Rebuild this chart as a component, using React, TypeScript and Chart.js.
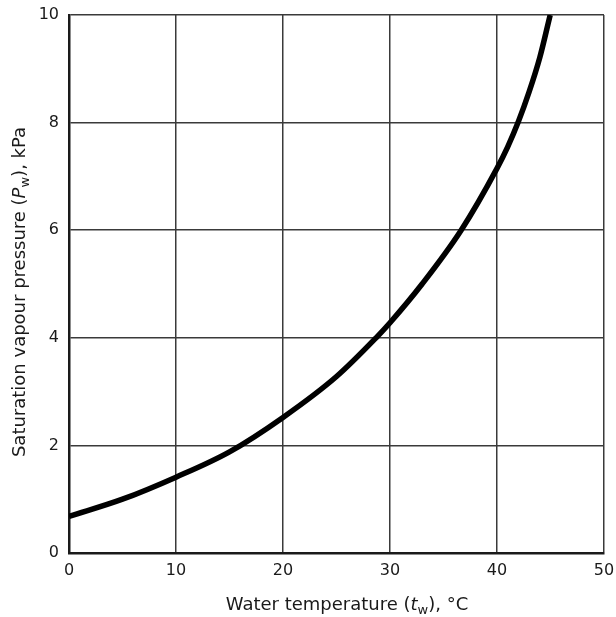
import React, { useEffect, useRef } from "react";
import { Chart, registerables } from "chart.js";

Chart.register(...registerables);

const temperatures = [0, 5, 10, 15, 20, 25, 28.7, 30, 33, 36.65, 40, 41, 42, 43, 44, 44.97];
const pressures = [0.68, 1.0, 1.41, 1.88, 2.52, 3.28, 4.0, 4.28, 5.0, 6.0, 7.15, 7.55, 8.02, 8.57, 9.21, 10.0];
const xTickStep = 10;
const yTickStep = 2;
const xTitleParts = [
  { text: "Water temperature (", style: "normal" },
  { text: "t", style: "italic" },
  { text: "w", style: "sub" },
  { text: "), °C", style: "normal" },
];
const yTitleParts = [
  { text: "Saturation vapour pressure (", style: "normal" },
  { text: "P", style: "italic" },
  { text: "w", style: "sub" },
  { text: "), kPa", style: "normal" },
];

const FONT = "'DejaVu Sans', sans-serif";

function drawParts(ctx: CanvasRenderingContext2D, parts: { text: string; style: string }[], cx: number, cy: number, size: number) {
  const fontFor = (s: string) =>
    s === "italic" ? `italic ${size}px ${FONT}` : s === "sub" ? `${Math.round(size * 0.7)}px ${FONT}` : `${size}px ${FONT}`;
  let total = 0;
  for (const p of parts) {
    ctx.font = fontFor(p.style);
    total += ctx.measureText(p.text).width;
  }
  let x = cx - total / 2;
  ctx.textBaseline = "middle";
  ctx.textAlign = "left";
  for (const p of parts) {
    ctx.font = fontFor(p.style);
    ctx.fillText(p.text, x, p.style === "sub" ? cy + size * 0.3 : cy);
    x += ctx.measureText(p.text).width;
  }
}

const titlePlugin = {
  id: "customTitles",
  afterDraw(chart: any) {
    const ctx = chart.ctx as CanvasRenderingContext2D;
    ctx.save();
    ctx.fillStyle = "#1a1a1a";
    drawParts(ctx, xTitleParts, 347, 605, 18);
    ctx.translate(20, 292);
    ctx.rotate(-Math.PI / 2);
    drawParts(ctx, yTitleParts, 0, 0, 18);
    ctx.restore();
  },
};

export default function App() {
  const ref = useRef<HTMLCanvasElement>(null);
  useEffect(() => {
    if (!ref.current) return;
    const chart = new Chart(ref.current, {
      type: "line",
      data: {
        datasets: [
          {
            data: temperatures.map((t, i) => ({ x: t, y: pressures[i] })),
            borderColor: "#000",
            borderWidth: 5.5,
            pointRadius: 0,
            cubicInterpolationMode: "monotone",
            fill: false,
          },
        ],
      },
      options: {
        animation: false,
        responsive: false,
        layout: { padding: { top: 15, right: 12, left: 0, bottom: 0 } },
        plugins: { legend: { display: false }, tooltip: { enabled: false }, title: { display: false } },
        scales: {
          x: {
            type: "linear",
            min: 0,
            max: 50,
            ticks: { stepSize: xTickStep, padding: 8, color: "#1a1a1a", font: { family: FONT, size: 16 } },
            grid: { color: "#3a3a3a", lineWidth: 1.5, drawTicks: false },
            border: { color: "#1a1a1a", width: 2.5 },
            afterFit: (s: any) => { s.height = 64; s.paddingRight = 0; s.paddingLeft = 0; },
          },
          y: {
            min: 0,
            max: 10,
            ticks: { stepSize: yTickStep, padding: 10, color: "#1a1a1a", font: { family: FONT, size: 16 } },
            grid: { color: "#3a3a3a", lineWidth: 1.5, drawTicks: false },
            border: { color: "#1a1a1a", width: 2.5 },
            afterFit: (s: any) => { s.width = 69; s.paddingTop = 0; s.paddingBottom = 0; },
          },
        },
      },
      plugins: [titlePlugin],
    } as any);
    return () => chart.destroy();
  }, []);
  return (
    <div style={{ position: "absolute", left: 0, top: 0, width: 616, height: 617, background: "#fff" }}>
      <canvas ref={ref} width={616} height={617} />
    </div>
  );
}
